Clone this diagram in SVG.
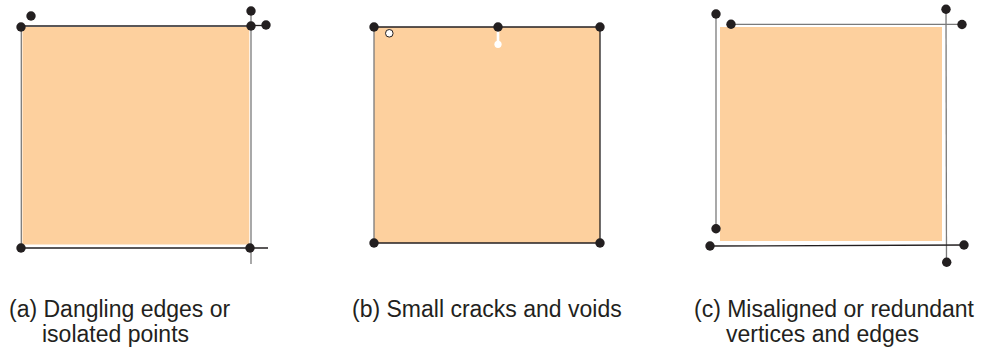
<svg xmlns="http://www.w3.org/2000/svg" width="984" height="353" viewBox="0 0 984 353">
<style>
.fill{fill:#fdd09e}
.dk{stroke:#231f20;stroke-width:1.3;fill:none}
.gr{stroke:#7a7a7a;stroke-width:1.3;fill:none}
.dot{fill:#231f20}
.lbl{font-family:"Liberation Sans",Arial,sans-serif;font-size:23px;fill:#231f20}
</style>
<rect width="984" height="353" fill="#ffffff"/>
<g id="panel-a">
<rect class="fill" x="22.5" y="27" width="226.8" height="217.5"/>
<g id="edges-a">
<line class="dk" x1="21" y1="26" x2="251" y2="26"/>
<line class="gr" x1="21.3" y1="26" x2="21.3" y2="248"/>
<line class="gr" x1="251" y1="11" x2="251" y2="264"/>
<line class="dk" x1="251" y1="25.5" x2="266" y2="25.5"/>
<line class="dk" x1="21" y1="248" x2="268" y2="248"/>
</g>
<circle class="dot" cx="21" cy="27" r="4.7"/>
<circle class="dot" cx="31" cy="16" r="4.7"/>
<circle class="dot" cx="251" cy="26" r="4.7"/>
<circle class="dot" cx="251" cy="11" r="4.7"/>
<circle class="dot" cx="266" cy="25" r="4.7"/>
<circle class="dot" cx="21" cy="248" r="4.7"/>
<circle class="dot" cx="250" cy="248" r="4.7"/>
<text class="lbl" x="9" y="317">(a) Dangling edges or</text>
<text class="lbl" x="42" y="342">isolated points</text>
</g>
<g id="panel-b">
<rect class="fill" x="374" y="27" width="226" height="216"/>
<g id="edges-b">
<line class="dk" x1="374" y1="27" x2="600" y2="27"/>
<line class="gr" x1="374" y1="27" x2="374" y2="243"/>
<line class="dk" x1="600" y1="27" x2="600" y2="243"/>
<line class="dk" x1="374" y1="243" x2="600" y2="243"/>
<line stroke="#ffffff" stroke-width="2.6" x1="498" y1="30" x2="498" y2="44"/>
</g>
<circle class="dot" cx="374" cy="27" r="4.7"/>
<circle class="dot" cx="498" cy="27" r="4.7"/>
<circle class="dot" cx="600" cy="27" r="4.7"/>
<circle class="dot" cx="374" cy="243" r="4.7"/>
<circle class="dot" cx="600" cy="243" r="4.7"/>
<circle cx="389.3" cy="33.3" r="3.8" fill="#ffffff" stroke="#231f20" stroke-width="1"/>
<circle cx="498" cy="44.3" r="3.6" fill="#ffffff"/>
<text class="lbl" x="352" y="317">(b) Small cracks and voids</text>
</g>
<g id="panel-c">
<rect class="fill" x="720" y="27" width="222" height="214"/>
<g id="edges-c">
<line class="gr" x1="716" y1="14" x2="716" y2="229"/>
<line class="gr" x1="731" y1="24.3" x2="962" y2="24.3"/>
<line class="gr" x1="946" y1="9" x2="946.5" y2="262"/>
<line class="dk" x1="710" y1="246" x2="964" y2="245"/>
</g>
<circle class="dot" cx="716" cy="14" r="4.7"/>
<circle class="dot" cx="731" cy="24.3" r="4.7"/>
<circle class="dot" cx="946" cy="9.3" r="4.7"/>
<circle class="dot" cx="962" cy="24.5" r="4.7"/>
<circle class="dot" cx="716" cy="228.7" r="4.7"/>
<circle class="dot" cx="710" cy="246" r="4.7"/>
<circle class="dot" cx="964" cy="245" r="4.7"/>
<circle class="dot" cx="946.7" cy="262.3" r="4.7"/>
<text class="lbl" x="694" y="317">(c) Misaligned or redundant</text>
<text class="lbl" x="726" y="342">vertices and edges</text>
</g>
</svg>
